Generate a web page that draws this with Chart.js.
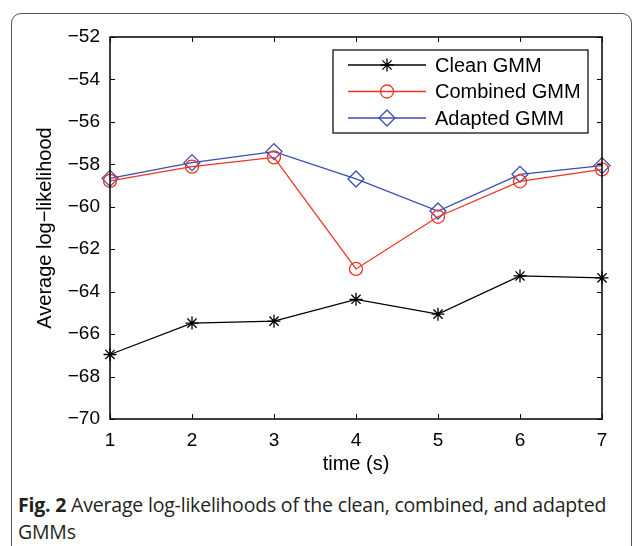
<!DOCTYPE html>
<html>
<head>
<meta charset="utf-8">
<script src="https://cdn.jsdelivr.net/npm/chart.js@4"></script>
<style>
  html, body { margin: 0; padding: 0; background: #fff; overflow: hidden; }
  #frame { position: absolute; left: 11px; top: 13px; width: 619px; height: 600px;
           border: 1.5px solid #555; border-radius: 10px; }
  #chart { position: absolute; left: 0; top: 0; }
  #caption { position: absolute; left: 18px; top: 491px; width: 600px;
             font-family: "Open Sans", sans-serif; font-size: 19.5px; line-height: 27px;
             color: #231f20; letter-spacing: -0.2px; }
  #caption b { font-weight: 700; }
</style>
</head>
<body>
<div id="frame"></div>
<canvas id="chart" width="635" height="480"></canvas>
<div id="caption"><b>Fig. 2</b> Average log-likelihoods of the clean, combined, and adapted GMMs</div>
<script>
// values
const timeLabels = ["1", "2", "3", "4", "5", "6", "7"];
const cleanGMM = [-66.96, -65.48, -65.39, -64.36, -65.06, -63.26, -63.35];
const combinedGMM = [-58.78, -58.11, -57.67, -62.93, -60.47, -58.80, -58.24];
const adaptedGMM = [-58.66, -57.92, -57.40, -58.69, -60.20, -58.47, -58.06];
const yTicks = [-70, -68, -66, -64, -62, -60, -58, -56, -54, -52];

const FONT = "'Liberation Sans', Arial, sans-serif";

// MATLAB style box with inward ticks on all four sides
const boxPlugin = {
  id: "box",
  afterDraw(chart) {
    const ctx = chart.ctx;
    const a = chart.chartArea;
    const xs = chart.scales.x, ys = chart.scales.y;
    const len = 5;
    ctx.save();
    ctx.strokeStyle = "#000";
    ctx.lineWidth = 1.5;
    ctx.strokeRect(a.left, a.top, a.right - a.left, a.bottom - a.top);
    ctx.lineWidth = 1;
    ctx.beginPath();
    xs.ticks.forEach((t, i) => {
      const x = Math.round(xs.getPixelForTick(i)) + 0.5;
      ctx.moveTo(x, a.bottom); ctx.lineTo(x, a.bottom - len);
      ctx.moveTo(x, a.top); ctx.lineTo(x, a.top + len);
    });
    ys.ticks.forEach((t, i) => {
      const y = Math.round(ys.getPixelForTick(i)) + 0.5;
      ctx.moveTo(a.left, y); ctx.lineTo(a.left + len, y);
      ctx.moveTo(a.right, y); ctx.lineTo(a.right - len, y);
    });
    ctx.stroke();
    ctx.restore();
  }
};

// legend with line sample + marker, inside the top right corner
const legendPlugin = {
  id: "boxLegend",
  afterDraw(chart) {
    const ctx = chart.ctx;
    const a = chart.chartArea;
    const w = 255, h = 83;
    const left = a.right - 14 - w, top = a.top + 13;
    ctx.save();
    ctx.fillStyle = "#fff";
    ctx.fillRect(left, top, w, h);
    ctx.strokeStyle = "#000";
    ctx.lineWidth = 1.2;
    ctx.strokeRect(left, top, w, h);
    ctx.font = "20px " + FONT;
    ctx.textBaseline = "middle";
    chart.data.datasets.forEach((ds, i) => {
      const y = top + 15 + i * 26.5;
      ctx.strokeStyle = ds.borderColor;
      ctx.lineWidth = ds.borderWidth;
      ctx.beginPath();
      ctx.moveTo(left + 15, y);
      ctx.lineTo(left + 93, y);
      ctx.stroke();
      ctx.fillStyle = "rgba(0,0,0,0)";
      Chart.helpers.drawPoint(ctx, {
        pointStyle: ds.pointStyle, radius: ds.pointRadius, rotation: 0,
        borderWidth: ds.pointBorderWidth
      }, left + 54, y);
      ctx.fillStyle = "#000";
      ctx.fillText(ds.label, left + 102, y + 1);
    });
    ctx.restore();
  }
};

const mkSet = (label, data, color, style, r) => ({
  label: label,
  data: data,
  borderColor: color,
  backgroundColor: color,
  borderWidth: 1.3,
  pointStyle: style,
  pointRadius: r,
  pointHoverRadius: r,
  pointBorderColor: color,
  pointBackgroundColor: "rgba(0,0,0,0)",
  pointBorderWidth: 1.3,
  tension: 0,
  fill: false
});

new Chart(document.getElementById("chart"), {
  type: "line",
  data: {
    labels: timeLabels,
    datasets: [
      mkSet("Clean GMM", cleanGMM, "#000000", "star", 6.5),
      mkSet("Combined GMM", combinedGMM, "#ee3524", "circle", 6.5),
      mkSet("Adapted GMM", adaptedGMM, "#3a4db3", "rectRot", 8)
    ]
  },
  options: {
    responsive: false,
    animation: false,
    devicePixelRatio: 1,
    layout: { padding: { left: 0, right: 33, top: 37, bottom: 0 } },
    plugins: { legend: { display: false }, tooltip: { enabled: false } },
    scales: {
      x: {
        type: "category",
        offset: false,
        grid: { display: false, drawTicks: false },
        border: { display: false },
        ticks: { color: "#000", padding: 10, font: { family: FONT, size: 19 }, maxRotation: 0 },
        title: { display: true, text: "time (s)", color: "#000",
                 font: { family: FONT, size: 20 }, padding: { top: 0, bottom: 4 } },
        afterFit(scale) { scale.height = 61; }
      },
      y: {
        min: -70,
        max: -52,
        afterBuildTicks(scale) { scale.ticks = yTicks.map(v => ({ value: v })); },
        grid: { display: false, drawTicks: false },
        border: { display: false },
        ticks: {
          color: "#000", padding: 10, font: { family: FONT, size: 19 },
          callback: v => "\u2212" + Math.abs(v)
        },
        title: { display: true, text: "Average log\u2212likelihood", color: "#000",
                 font: { family: FONT, size: 20 }, padding: { top: 33, bottom: 0 } },
        afterFit(scale) { scale.width = 110; }
      }
    }
  },
  plugins: [boxPlugin, legendPlugin]
});
</script>
</body>
</html>
